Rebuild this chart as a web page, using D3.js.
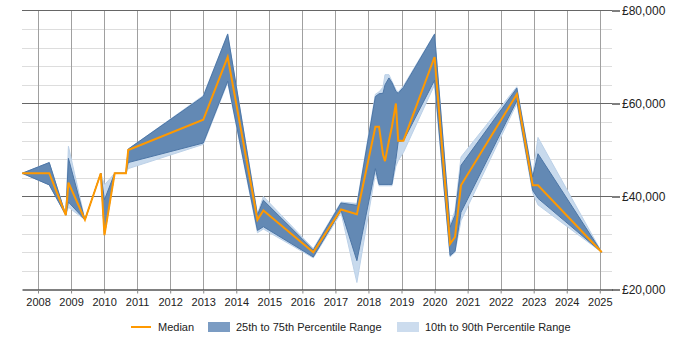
<!DOCTYPE html>
<html>
<head>
<meta charset="utf-8">
<script src="https://cdn.jsdelivr.net/npm/d3@7"></script>
<style>
body { margin: 0; background: #fff; }
svg { display: block; font-family: "Liberation Sans", Arial, sans-serif; }
</style>
</head>
<body>
<svg></svg>
<script>
// sample dates as decimal years
const dates = [2007.52, 2008.34, 2008.84, 2008.92, 2009.42, 2009.90, 2010.01, 2010.32, 2010.66, 2010.73,
  2013.00, 2013.74, 2014.64, 2014.82, 2016.33, 2017.17, 2017.65, 2018.21, 2018.32, 2018.44,
  2018.50, 2018.62, 2018.71, 2018.83, 2018.90, 2019.06, 2020.00, 2020.47, 2020.62, 2020.80,
  2022.49, 2022.97, 2023.13, 2025.06];
const median = [45000, 45000, 36000, 43000, 35000, 45000, 31700, 45000, 45000, 50000,
  56500, 70000, 35000, 37000, 28000, 37200, 36200, 55000, 55000, 49000,
  47600, 52000, 55000, 60000, 52000, 52000, 70000, 29800, 31300, 42400,
  62000, 42400, 42400, 28000];
const q25 = [45000, 42500, 36000, 38800, 35000, 45000, 31700, 45000, 45000, 47300,
  51500, 64800, 32700, 33500, 27000, 37000, 26200, 46000, 42600, 42600,
  42600, 42600, 42600, 48000, 51800, 52000, 65000, 27300, 28200, 36600,
  60600, 41300, 39600, 28000];
const q75 = [45000, 47300, 36000, 48200, 35000, 45000, 39300, 45000, 45000, 50200,
  61500, 74900, 36000, 39200, 28500, 38600, 38100, 61500, 62100, 62200,
  64000, 65500, 64500, 62600, 62200, 63500, 74900, 33400, 36000, 46700,
  63300, 44200, 49200, 28000];
const p10 = [45000, 42500, 36000, 37700, 35000, 45000, 31700, 45000, 45000, 46000,
  51200, 64500, 32200, 33000, 26800, 36500, 21500, 45000, 42300, 42300,
  42300, 42300, 42300, 46500, 47700, 49500, 64000, 27000, 28000, 34800,
  60000, 40800, 38200, 28000];
const p90 = [45000, 47300, 36000, 50800, 35000, 45000, 42500, 45000, 45000, 50200,
  61700, 75000, 36300, 40000, 28800, 38800, 38500, 62000, 62500, 63500,
  66200, 66200, 64800, 63000, 62500, 63800, 75000, 33800, 37000, 48500,
  63600, 44500, 52700, 28000];

const yearTicks = d3.range(2008, 2026);
const salaryTicks = [20000, 40000, 60000, 80000];
const legendLabels = ['Median', '25th to 75th Percentile Range', '10th to 90th Percentile Range'];

const svg = d3.select('svg').attr('width', 700).attr('height', 350);

const LEFT = 22, RIGHT = 612, TOP = 10, BOTTOM = 290;

const x = d3.scaleLinear().domain([2007.515, 2025.37]).range([LEFT, RIGHT]);
const y = d3.scaleLinear().domain([20000, 80000]).range([BOTTOM - 0.5, TOP + 0.5]);

const rows = dates.map((d, i) => ({
  date: d, median: median[i], q25: q25[i], q75: q75[i], p10: p10[i], p90: p90[i]
}));

// grid
const grid = svg.append('g');
const minor = d3.range(20000, 80001, 4000).filter(v => v % 20000 !== 0);
grid.selectAll('.minor').data(minor).join('line')
  .attr('x1', LEFT).attr('x2', RIGHT)
  .attr('y1', d => Math.round(y(d)) + 0.5).attr('y2', d => Math.round(y(d)) + 0.5)
  .attr('stroke', '#dddddd');
grid.selectAll('.vert').data(yearTicks).join('line')
  .attr('x1', d => Math.round(x(d)) + 0.5).attr('x2', d => Math.round(x(d)) + 0.5)
  .attr('y1', TOP).attr('y2', BOTTOM)
  .attr('stroke', '#a0a0a0');
grid.selectAll('.major').data(salaryTicks.filter(v => v > 20000)).join('line')
  .attr('x1', LEFT).attr('x2', RIGHT)
  .attr('y1', d => y(d)).attr('y2', d => y(d))
  .attr('stroke', '#666666');

// bands
const outer = d3.area().x(d => x(d.date)).y0(d => y(d.p10)).y1(d => y(d.p90));
const inner = d3.area().x(d => x(d.date)).y0(d => y(d.q25)).y1(d => y(d.q75));
const line = d3.line().x(d => x(d.date)).y(d => y(d.median));

svg.append('path').datum(rows).attr('d', outer)
  .attr('fill', '#c8daed').attr('stroke', '#bcd1e8').attr('stroke-width', 1);
svg.append('path').datum(rows).attr('d', inner)
  .attr('fill', '#6389b4').attr('stroke', '#4d76a6').attr('stroke-width', 1);
svg.append('path').datum(rows).attr('d', line)
  .attr('fill', 'none').attr('stroke', '#ff9900').attr('stroke-width', 2)
  .attr('stroke-linejoin', 'miter');

// bottom axis
const xAxis = d3.axisBottom(x).tickValues(yearTicks).tickFormat(d3.format('d'))
  .tickSize(4).tickPadding(5).tickSizeOuter(0);
const xAxisG = svg.append('g').attr('transform', `translate(0, ${BOTTOM - 0.5})`).call(xAxis);
xAxisG.select('.domain').attr('stroke', '#000');
xAxisG.selectAll('.tick line').attr('stroke', '#888');
xAxisG.selectAll('text').attr('font-size', 11).attr('fill', '#222')
  .attr('font-family', '"Liberation Sans", Arial, sans-serif');

// right axis
const yAxis = d3.axisRight(y).tickValues(salaryTicks)
  .tickFormat(d => '£' + d3.format(',')(d)).tickSize(8).tickPadding(2);
const yAxisG = svg.append('g').attr('transform', `translate(${RIGHT}, 0)`).call(yAxis);
yAxisG.select('.domain').remove();
yAxisG.selectAll('.tick line').attr('stroke', '#000');
yAxisG.selectAll('text').attr('font-size', 12).attr('fill', '#222')
  .attr('font-family', '"Liberation Sans", Arial, sans-serif');

// legend
const legend = svg.append('g').attr('font-size', 11).attr('fill', '#222');
legend.append('line').attr('x1', 131).attr('x2', 151).attr('y1', 327).attr('y2', 327)
  .attr('stroke', '#ff9900').attr('stroke-width', 2);
legend.append('text').attr('x', 158).attr('y', 331).text(legendLabels[0]);
legend.append('rect').attr('x', 208).attr('y', 322).attr('width', 22).attr('height', 10)
  .attr('fill', '#7b9cc3');
legend.append('text').attr('x', 236).attr('y', 331).text(legendLabels[1]);
legend.append('rect').attr('x', 397).attr('y', 322).attr('width', 22).attr('height', 10)
  .attr('fill', '#ccdcee');
legend.append('text').attr('x', 425).attr('y', 331).text(legendLabels[2]);
</script>
</body>
</html>
